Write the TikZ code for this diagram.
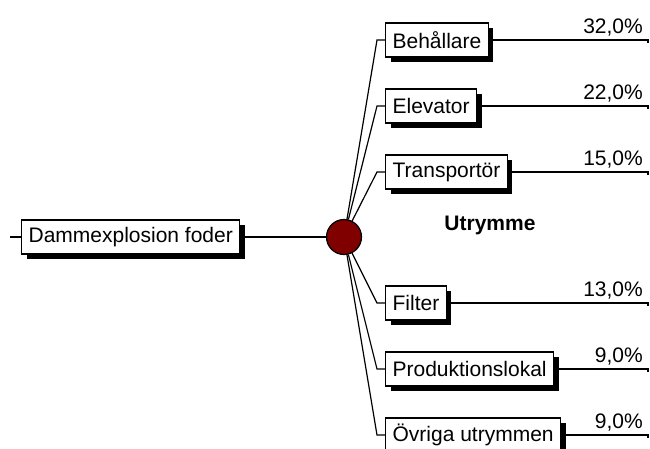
\documentclass[tikz,border=0pt]{standalone}
\usepackage{fontspec}
\setmainfont{Liberation Sans}
\usetikzlibrary{shadows}
\definecolor{hubred}{RGB}{128,0,0}
\begin{document}
\begin{tikzpicture}[x=1pt,y=-1pt,
  font=\fontsize{21}{25}\selectfont,
  box/.style={draw, line width=1.2pt, fill=white, inner xsep=7pt, inner ysep=0pt,
    minimum height=34pt, anchor=west,
    drop shadow={shadow xshift=5pt, shadow yshift=-5pt, fill=black, opacity=1}},
  conn/.style={line width=1.2pt},
  pct/.style={anchor=south east, inner sep=0pt}]
\useasboundingbox (0,0) rectangle (650,449);

% root
\coordinate (rs) at (10,237);
\node[box] (root) at (21,237) {Dammexplosion foder};
\node[circle, draw, line width=1.2pt, fill=hubred, minimum size=35pt, inner sep=0pt] (hub) at (344,237) {};
\draw[conn] (rs) -- (root.west);
\draw[conn] (root.east) -- (hub.west);

% branches
\foreach \n/\y/\t/\p in {b1/40/Behållare/{32,0\%}, b2/106/Elevator/{22,0\%}, b3/172/Transportör/{15,0\%},
                        b4/303/Filter/{13,0\%}, b5/369/Produktionslokal/{9,0\%}, b6/435/Övriga utrymmen/{9,0\%}}{
  \node[box] (\n) at (385,\y) {\t};
  \coordinate (\n e) at (648,\y);
  \draw[conn] (hub) -- ([xshift=-8pt]\n.west) -- (\n.west);
  \draw[conn] (\n.east) -- (\n e) -- ++(0,3);
  \node[pct] (\n p) at (643,\y-4) {\p};
}

\node[font=\fontsize{21}{25}\selectfont\bfseries] (ut) at (490,225) {Utrymme};
\end{tikzpicture}
\end{document}
